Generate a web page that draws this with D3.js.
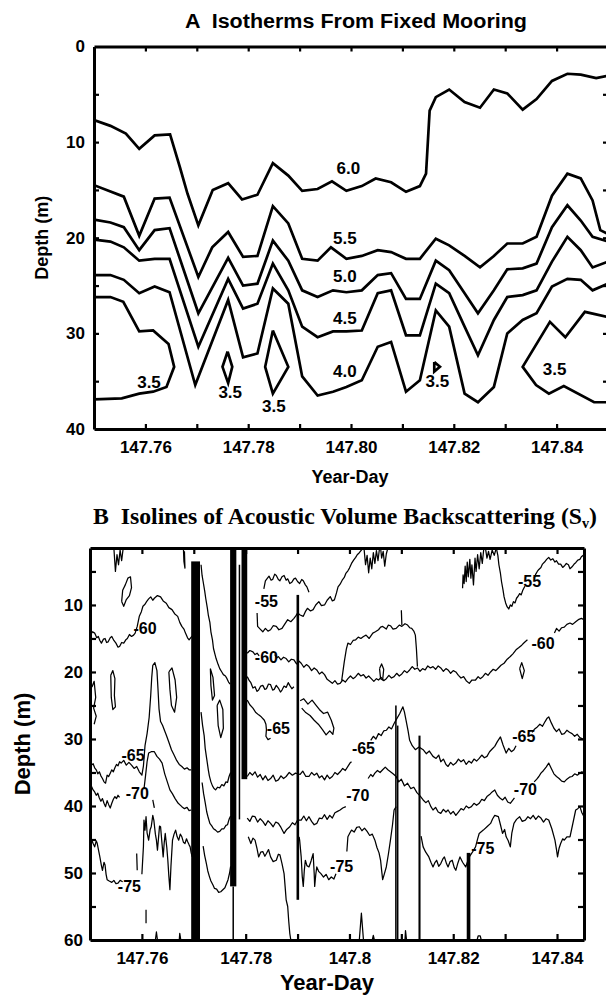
<!DOCTYPE html>
<html><head><meta charset="utf-8">
<script src="https://cdn.jsdelivr.net/npm/d3@7"></script>
<style>body{margin:0;background:#fff} svg{display:block}</style>
</head><body><svg id="c" width="606" height="996"></svg>
<script>
// ===================== PANEL A DATA (Year-Day, depth m) =====================
const aXTicks = [147.76,147.77,147.78,147.79,147.80,147.81,147.82,147.83,147.84];
const aXLabels = [147.76,147.78,147.80,147.82,147.84];
const aYTicks = [5,10,15,20,25,30,35];
const aYLabels = [0,10,20,30,40];

const iso60 = [[147.7500,7.7],[147.7532,8.3],[147.7562,9.1],[147.7588,10.7],[147.7618,9.3],[147.7648,9.2],[147.7667,12.6],[147.7682,15.4],[147.7703,18.7],[147.7731,15.0],[147.7761,14.3],[147.7788,16.0],[147.7818,15.5],[147.7848,12.2],[147.7878,13.5],[147.7905,15.1],[147.7935,14.9],[147.7963,14.1],[147.7991,15.1],[147.8021,14.6],[147.8048,13.8],[147.8078,14.2],[147.8107,15.2],[147.8134,14.6],[147.8146,13.3],[147.8153,6.7],[147.8165,5.3],[147.8191,4.5],[147.8221,5.8],[147.8251,6.4],[147.8278,4.5],[147.8304,4.9],[147.8334,6.6],[147.8361,5.5],[147.8391,3.6],[147.8421,2.85],[147.8447,2.95],[147.8477,3.3],[147.8500,3.05]];
const iso55 = [[147.7500,14.5],[147.7558,15.7],[147.7588,19.8],[147.7618,15.9],[147.7647,15.8],[147.7703,24.1],[147.7730,21.0],[147.7761,19.4],[147.7790,22.0],[147.7818,21.9],[147.7848,16.7],[147.7878,18.5],[147.7905,22.2],[147.7935,22.4],[147.7961,21.0],[147.7991,22.2],[147.8021,21.9],[147.8052,21.3],[147.8078,21.5],[147.8107,22.2],[147.8134,22.2],[147.8165,20.1],[147.8191,20.8],[147.8221,21.9],[147.8251,23.1],[147.8278,21.9],[147.8304,20.6],[147.8334,20.6],[147.8361,19.9],[147.8391,15.6],[147.8421,13.3],[147.8447,13.8],[147.8470,16.1],[147.8485,19.2],[147.8500,19.6]];
const iso50 = [[147.7500,18.1],[147.7532,18.4],[147.7558,18.9],[147.7588,21.3],[147.7618,19.2],[147.7647,19.0],[147.7703,27.9],[147.7761,22.1],[147.7790,25.0],[147.7818,24.8],[147.7848,20.3],[147.7878,22.4],[147.7905,25.5],[147.7935,26.2],[147.7965,25.5],[147.7991,25.7],[147.8021,25.5],[147.8052,23.9],[147.8078,23.7],[147.8107,26.4],[147.8134,26.4],[147.8165,22.4],[147.8191,23.4],[147.8221,25.8],[147.8247,27.9],[147.8278,25.5],[147.8304,23.3],[147.8334,23.2],[147.8361,22.7],[147.8391,18.9],[147.8421,16.6],[147.8447,18.2],[147.8470,19.9],[147.8500,20.4]];
const iso45 = [[147.7500,20.2],[147.7532,20.4],[147.7558,21.0],[147.7588,22.4],[147.7618,22.2],[147.7647,22.2],[147.7703,31.4],[147.7761,24.3],[147.7790,27.4],[147.7818,26.9],[147.7848,22.7],[147.7878,25.5],[147.7905,29.3],[147.7935,30.4],[147.7965,29.8],[147.7991,29.8],[147.8021,29.7],[147.8052,25.8],[147.8078,25.5],[147.8107,30.2],[147.8134,30.2],[147.8165,24.8],[147.8191,25.8],[147.8221,29.3],[147.8247,32.3],[147.8278,28.6],[147.8304,26.2],[147.8334,26.0],[147.8361,25.5],[147.8391,22.5],[147.8421,19.9],[147.8447,21.3],[147.8470,23.1],[147.8500,22.5]];
const iso40 = [[147.7500,23.9],[147.7532,23.9],[147.7558,24.4],[147.7588,25.8],[147.7618,25.1],[147.7647,25.7],[147.7697,35.4],[147.7761,26.5],[147.7790,32.5],[147.7818,32.1],[147.7848,25.3],[147.7878,26.9],[147.7905,34.5],[147.7935,36.5],[147.7965,36.1],[147.7991,35.6],[147.8021,34.9],[147.8052,31.4],[147.8078,30.9],[147.8107,36.1],[147.8134,34.9],[147.8165,27.6],[147.8191,29.3],[147.8221,36.3],[147.8247,37.2],[147.8278,35.6],[147.8304,30.0],[147.8334,28.6],[147.8361,27.9],[147.8391,25.1],[147.8421,24.3],[147.8447,24.4],[147.8470,25.5],[147.8500,24.8]];
const iso35Left = [[147.7500,26.2],[147.7532,26.2],[147.7557,26.7],[147.7588,29.8],[147.7615,29.7],[147.7645,31.1],[147.7656,33.5],[147.7641,35.6],[147.7615,36.1],[147.7588,36.3],[147.7554,36.8],[147.7500,36.9]];
const iso35D1 = [[147.7760,31.9],[147.7769,33.5],[147.7761,35.2],[147.7750,33.5],[147.7760,31.9]];
const iso35D2 = [[147.7848,29.7],[147.7878,33.5],[147.7848,36.3],[147.7833,33.5],[147.7848,29.7]];
const iso35D3 = [[147.8162,33.0],[147.8173,33.5],[147.8162,34.0],[147.8162,33.0]];
const iso35Right = [[147.8500,28.3],[147.8455,27.75],[147.8417,30.4],[147.8387,28.8],[147.8334,33.5],[147.8360,35.4],[147.8385,36.3],[147.8414,35.5],[147.8473,37.2],[147.8500,37.2]];
const aLabels = [["6.0",147.7995,12.75],["5.5",147.7988,20.1],["5.0",147.7988,24.1],["4.5",147.7988,28.4],["4.0",147.7988,34.0],
  ["3.5",147.7607,35.1],["3.5",147.7765,36.2],["3.5",147.7850,37.6],["3.5",147.8168,35.05],["3.5",147.8396,33.8]];

// ===================== PANEL B DATA (Year-Day, depth m, Sv dB) =====================
const bXTicks = [147.76,147.77,147.78,147.79,147.80,147.81,147.82,147.83,147.84];
const bXLabels = [147.76,147.78,147.80,147.82,147.84];
const bXLabelText = ["147.76","147.78","147.8","147.82","147.84"];
const bYTicks = [5,10,15,20,25,30,35,40,45,50,55];
const bYLabels = [10,20,30,40,50,60];

const svTopL1 = [[147.7546,1.5],[147.7549,5.0],[147.7552,2.5],[147.7555,4.0],[147.7558,1.8],[147.7561,3.4],[147.7564,1.5]];
const svTopL2 = [[147.7680,1.5],[147.7681,3.5],[147.7683,4.5],[147.7682,2.0]];
const svBlobL = [[147.7561,9.5],[147.7563,7.8],[147.7568,7.0],[147.7573,6.0],[147.7578,5.8],[147.7580,7.4],[147.7576,8.6],[147.7570,9.2],[147.7565,10.2],[147.7561,9.5]];
const svLeftSq = [[147.7500,21.5],[147.7504,22.2],[147.7508,21.4],[147.7511,23.8],[147.7507,25.4],[147.7512,26.6],[147.7508,27.8]];
const svLoopL2 = [[147.7540,20.5],[147.7544,19.8],[147.7548,21.0],[147.7547,23.5],[147.7549,25.2],[147.7544,25.6],[147.7541,23.8],[147.7540,20.5]];
const svLoopL3 = [[147.7652,20.0],[147.7658,19.4],[147.7664,21.2],[147.7667,23.8],[147.7663,26.0],[147.7657,25.0],[147.7654,22.6],[147.7652,20.0]];
const sv60Left = [[147.7500,14.5],[147.7505,14.0],[147.7509,14.2],[147.7513,14.9],[147.7516,14.7],[147.7519,15.3],[147.7522,15.7],[147.7526,15.1],[147.7529,15.0],[147.7532,15.6],[147.7535,15.5],[147.7539,14.9],[147.7542,14.7],[147.7546,15.3],[147.7550,15.7],[147.7554,16.3],[147.7557,16.2],[147.7561,15.6],[147.7565,15.7],[147.7569,15.2],[147.7572,15.0],[147.7576,14.4],[147.7580,14.7],[147.7584,14.5],[147.7587,14.2],[147.7591,13.2],[147.7595,11.7],[147.7599,11.0],[147.7602,10.2],[147.7606,9.9],[147.7609,9.5],[147.7613,9.1],[147.7617,8.8],[147.7621,9.3],[147.7624,9.0],[147.7630,8.6],[147.7636,8.8],[147.7641,9.4],[147.7647,9.75],[147.7652,10.4],[147.7658,10.7],[147.7663,11.3],[147.7669,11.7],[147.7673,12.6],[147.7677,13.2],[147.7681,13.6],[147.7684,14.2],[147.7688,14.9],[147.7691,15.2],[147.7695,14.8],[147.7699,14.5],[147.7705,13.2]];
const sv65Left = [[147.7500,33.6],[147.7503,33.9],[147.7506,33.7],[147.7509,34.3],[147.7512,34.6],[147.7515,35.2],[147.7518,34.9],[147.7521,35.5],[147.7524,35.9],[147.7527,36.4],[147.7530,36.6],[147.7533,35.4],[147.7536,35.6],[147.7539,35.1],[147.7542,34.6],[147.7545,34.9],[147.7548,34.3],[147.7551,33.8],[147.7554,34.0],[147.7557,33.4],[147.7560,33.6],[147.7565,33.2],[147.7570,33.9],[147.7575,33.5],[147.7580,33.9],[147.7585,34.4],[147.7590,34.1],[147.7595,34.9],[147.7600,35.4],[147.7603,34.0],[147.7606,31.0],[147.7610,29.2],[147.7614,26.8],[147.7617,23.5],[147.7619,20.8],[147.7621,19.0],[147.7625,18.6],[147.7629,19.8],[147.7631,22.5],[147.7633,25.5],[147.7636,27.4],[147.7640,28.0],[147.7644,28.8],[147.7647,29.4],[147.7652,30.5],[147.7657,31.6],[147.7662,32.4],[147.7667,33.2],[147.7672,33.8],[147.7677,34.1],[147.7682,34.5],[147.7687,34.3],[147.7691,34.6],[147.7695,34.6]];
const sv70Left = [[147.7500,37.4],[147.7503,37.1],[147.7506,37.6],[147.7509,37.9],[147.7512,38.4],[147.7515,38.1],[147.7518,38.8],[147.7521,39.3],[147.7524,38.9],[147.7527,39.6],[147.7530,40.1],[147.7533,39.2],[147.7536,39.8],[147.7539,40.3],[147.7542,39.6],[147.7545,39.0],[147.7548,38.6],[147.7551,38.9],[147.7554,38.4],[147.7557,38.7]];
const sv70LeftB = [[147.7604,37.5],[147.7607,35.5],[147.7610,33.4],[147.7613,32.1],[147.7618,31.9],[147.7624,31.9],[147.7629,32.6],[147.7634,33.0],[147.7639,33.6],[147.7644,35.2],[147.7649,36.4],[147.7654,37.6],[147.7659,38.2],[147.7664,38.9],[147.7670,39.6],[147.7677,40.1],[147.7682,40.4],[147.7687,40.2],[147.7691,40.7],[147.7695,40.6]];
const sv70LeftC = [[147.7621,39.1],[147.7624,40.3]];
const sv75Left = [[147.7502,44.8],[147.7506,45.6],[147.7509,46.1],[147.7512,45.2],[147.7514,45.6],[147.7517,46.8],[147.7519,47.6],[147.7522,48.9],[147.7524,49.6],[147.7527,48.4],[147.7529,48.8],[147.7531,50.2],[147.7533,51.0],[147.7537,51.2],[147.7542,51.4],[147.7546,51.1],[147.7550,51.6],[147.7554,51.5],[147.7558,51.1],[147.7563,51.3]];
const sv75LeftB = [[147.7590,47.1],[147.7591,49.6]];
const sv75LeftC = [[147.7608,55.5],[147.7608,57.5]];
const sv75Cluster = [[147.7600,50.2],[147.7603,46.0],[147.7604,42.1],[147.7606,43.6],[147.7608,41.6],[147.7610,44.0],[147.7613,45.1],[147.7616,43.5],[147.7618,43.1],[147.7621,41.4],[147.7623,42.1],[147.7626,44.2],[147.7628,45.1],[147.7630,46.6],[147.7632,44.8],[147.7634,43.0],[147.7636,43.1],[147.7639,45.8],[147.7641,47.6],[147.7643,45.5],[147.7645,44.1],[147.7648,46.2],[147.7650,48.1],[147.7652,50.5],[147.7654,52.5],[147.7656,49.0],[147.7659,45.1],[147.7662,44.2],[147.7665,43.6],[147.7668,44.6],[147.7671,45.1],[147.7674,44.2],[147.7677,44.6],[147.7680,45.4],[147.7683,45.6],[147.7686,44.9],[147.7688,45.3],[147.7691,45.8],[147.7693,46.1],[147.7695,47.0],[147.7697,47.6]];
const sv60Bars12 = [[147.7714,4.0],[147.7716,5.6],[147.7718,6.5],[147.7721,7.9],[147.7723,9.0],[147.7726,10.4],[147.7728,11.5],[147.7731,12.6],[147.7733,14.0],[147.7736,15.2],[147.7738,16.5],[147.7741,17.4],[147.7743,18.0],[147.7747,18.9],[147.7750,19.5],[147.7754,20.0],[147.7757,20.4],[147.7761,20.6],[147.7764,21.0],[147.7767,21.5],[147.7770,21.8]];
const svBlobB12 = [[147.7732,19.5],[147.7737,20.8],[147.7740,23.5],[147.7736,24.2],[147.7733,22.0],[147.7732,19.5]];
const svLoopB = [[147.7745,25.0],[147.7750,24.2],[147.7756,25.6],[147.7757,28.4],[147.7752,29.8],[147.7747,28.0],[147.7745,25.0]];
const sv65Bars12 = [[147.7714,26.0],[147.7717,28.0],[147.7720,29.5],[147.7722,31.4],[147.7725,33.0],[147.7728,34.6],[147.7730,35.5],[147.7733,36.4],[147.7736,37.0],[147.7739,37.4],[147.7742,37.6],[147.7746,37.2],[147.7750,37.3],[147.7754,36.8],[147.7758,37.0],[147.7762,36.4],[147.7765,36.5],[147.7768,35.6],[147.7771,35.0]];
const sv70Bars12 = [[147.7716,36.5],[147.7719,38.2],[147.7722,39.5],[147.7725,40.9],[147.7728,41.8],[147.7731,42.6],[147.7735,43.0],[147.7738,43.4],[147.7742,43.6],[147.7746,43.9],[147.7750,43.8],[147.7754,43.4],[147.7758,43.4],[147.7762,42.9],[147.7765,42.8],[147.7768,42.0],[147.7771,41.5]];
const sv75Bars12 = [[147.7718,46.0],[147.7721,47.4],[147.7724,48.5],[147.7727,49.7],[147.7730,50.5],[147.7733,51.2],[147.7737,51.8],[147.7740,52.3],[147.7744,52.4],[147.7748,52.9],[147.7752,52.8],[147.7756,52.5],[147.7760,52.2],[147.7763,51.6],[147.7766,51.0],[147.7769,50.0],[147.7771,49.0]];
const sv55Mid = [[147.7822,11.2],[147.7823,13.2],[147.7828,13.6],[147.7833,14.0],[147.7838,13.5],[147.7843,13.9],[147.7848,13.7],[147.7853,13.1],[147.7859,13.2],[147.7864,13.7],[147.7870,13.5],[147.7875,12.9],[147.7881,12.2],[147.7887,12.5],[147.7893,12.0],[147.7897,11.6],[147.7900,11.2],[147.7905,11.5],[147.7911,11.7],[147.7915,11.0],[147.7919,10.5],[147.7925,10.9],[147.7930,10.7],[147.7935,10.0],[147.7941,9.5],[147.7946,10.1],[147.7952,10.0],[147.7957,9.3],[147.7963,8.75],[147.7967,9.4],[147.7971,9.25],[147.7975,8.2],[147.7978,7.3],[147.7982,6.9],[147.7986,6.3],[147.7990,5.9],[147.7993,5.3],[147.7997,4.9],[147.8000,4.5],[147.8004,3.8],[147.8008,3.3],[147.8012,2.9],[147.8015,2.5],[147.8019,2.2],[147.8023,1.8],[147.8026,1.5]];
const sv55Upper = [[147.7835,7.6],[147.7838,6.4],[147.7842,6.0],[147.7845,5.7],[147.7849,6.3],[147.7852,6.2],[147.7856,5.4],[147.7859,5.6],[147.7863,6.2],[147.7866,6.4],[147.7870,5.8],[147.7874,5.6],[147.7878,6.3],[147.7881,6.1],[147.7885,6.8],[147.7889,6.6],[147.7893,6.1],[147.7896,6.0],[147.7900,6.5],[147.7904,6.8],[147.7908,6.2],[147.7911,6.4],[147.7915,7.0],[147.7918,7.3],[147.7922,8.1]];
const svTopM1 = [[147.8028,1.5],[147.8031,4.0],[147.8034,2.6],[147.8037,5.2],[147.8040,3.0],[147.8043,4.6],[147.8046,2.2],[147.8049,3.8],[147.8052,1.9],[147.8055,3.4],[147.8058,1.5]];
const svTopM2 = [[147.8060,1.5],[147.8062,3.0],[147.8065,2.0],[147.8068,4.2],[147.8071,2.4],[147.8074,1.5]];
const sv60Mid = [[147.7803,17.2],[147.7808,16.8],[147.7814,17.0],[147.7818,17.4],[147.7822,17.2],[147.7826,17.6]];
const sv60Mid2 = [[147.7856,17.4],[147.7860,17.9],[147.7863,17.7],[147.7868,18.2],[147.7873,17.8],[147.7878,18.0],[147.7883,18.5],[147.7888,18.1],[147.7893,18.2],[147.7898,18.8],[147.7903,18.4],[147.7907,18.7],[147.7912,19.3],[147.7917,18.9],[147.7922,19.2],[147.7927,19.8],[147.7932,19.4],[147.7937,19.7],[147.7942,20.3],[147.7947,20.0],[147.7952,20.4],[147.7957,21.1],[147.7962,21.4],[147.7967,21.7],[147.7972,21.3],[147.7977,21.8],[147.7982,21.7],[147.7987,21.2],[147.7992,21.5],[147.7997,21.0],[147.8002,20.6],[147.8007,21.0],[147.8012,20.7],[147.8017,20.2],[147.8022,20.6],[147.8027,20.4],[147.8032,20.9],[147.8037,20.6],[147.8042,21.0],[147.8047,21.4],[147.8052,21.0],[147.8056,21.2],[147.8061,20.8],[147.8066,21.3],[147.8071,21.0],[147.8076,20.5],[147.8081,20.9],[147.8086,20.7],[147.8091,20.2],[147.8096,20.6],[147.8101,20.3],[147.8106,19.8],[147.8111,20.1],[147.8116,19.7],[147.8121,19.2],[147.8126,19.6],[147.8131,19.4],[147.8136,19.9],[147.8141,19.5],[147.8146,19.7],[147.8151,19.1],[147.8156,19.4],[147.8161,19.2],[147.8166,19.6],[147.8171,19.1],[147.8176,19.4],[147.8181,19.9],[147.8186,19.5],[147.8190,19.7],[147.8195,20.2],[147.8200,19.8],[147.8205,20.0],[147.8210,20.5],[147.8215,20.9],[147.8220,20.7],[147.8225,21.3],[147.8231,21.7],[147.8236,21.2],[147.8243,21.2],[147.8248,20.7],[147.8252,21.0],[147.8257,20.7],[147.8262,20.2],[147.8267,20.5],[147.8272,20.0],[147.8277,19.6],[147.8282,19.8],[147.8287,19.4],[147.8292,19.0],[147.8298,18.7],[147.8304,18.1],[147.8310,17.7],[147.8315,17.3],[147.8321,16.7],[147.8326,16.4],[147.8332,16.0],[147.8337,15.6],[147.8343,15.2]];
const sv60Right = [[147.8395,14.2],[147.8399,13.5],[147.8404,13.9],[147.8409,13.4],[147.8414,13.3],[147.8419,12.9],[147.8425,12.7],[147.8430,12.9],[147.8436,12.5],[147.8441,12.2],[147.8447,12.0],[147.8452,12.2]];
const sv60Upper = [[147.7985,21.3],[147.7990,18.5],[147.7994,16.6],[147.7997,15.7],[147.8002,15.9],[147.8007,15.3],[147.8012,15.2],[147.8017,14.8],[147.8022,15.0],[147.8027,14.7],[147.8032,14.5],[147.8038,15.0],[147.8045,14.2],[147.8050,14.0],[147.8056,13.7],[147.8060,13.3],[147.8064,13.2],[147.8071,13.6],[147.8075,13.0],[147.8079,13.1],[147.8084,13.6],[147.8090,13.5],[147.8096,13.0],[147.8101,13.2],[147.8107,12.8],[147.8112,13.0],[147.8116,13.4],[147.8120,13.5],[147.8124,13.9],[147.8127,14.5],[147.8129,16.5],[147.8131,19.2]];
const svMid22 = [[147.7803,20.7],[147.7807,21.3],[147.7810,21.6],[147.7814,22.4],[147.7818,22.2],[147.7822,22.9],[147.7825,22.7],[147.7829,22.1],[147.7833,22.0],[147.7837,22.6],[147.7840,22.5],[147.7844,21.8],[147.7848,21.9],[147.7852,22.7],[147.7855,22.6],[147.7859,22.0],[147.7863,22.4],[147.7867,23.0],[147.7870,22.7],[147.7874,22.1],[147.7878,22.3],[147.7882,21.6],[147.7885,22.0],[147.7889,22.5],[147.7893,22.2]];
const sv65Mid2a = [[147.7803,24.2],[147.7808,24.9],[147.7814,25.4],[147.7819,26.0],[147.7825,26.4],[147.7830,26.7],[147.7836,27.2],[147.7839,27.8],[147.7840,28.6],[147.7839,29.6],[147.7843,30.1],[147.7848,29.9]];
const svLoopM = [[147.7905,24.3],[147.7912,24.0],[147.7920,24.8],[147.7928,24.2],[147.7935,24.9],[147.7942,25.6],[147.7950,26.2],[147.7958,26.0],[147.7965,27.2],[147.7970,28.4],[147.7968,29.3],[147.7962,28.8],[147.7955,29.4],[147.7948,28.6],[147.7940,27.8],[147.7932,27.2],[147.7924,26.5],[147.7915,26.0],[147.7908,25.4]];
const sv65Main = [[147.7803,35.6],[147.7808,35.0],[147.7813,35.4],[147.7818,34.9],[147.7823,35.7],[147.7828,35.3],[147.7833,36.1],[147.7838,35.5],[147.7843,36.2],[147.7848,35.9],[147.7853,35.4],[147.7858,36.3],[147.7863,36.1],[147.7868,35.5],[147.7873,35.9],[147.7878,35.6],[147.7884,35.0],[147.7890,35.4],[147.7896,35.1],[147.7905,35.3],[147.7910,34.8],[147.7916,35.6],[147.7922,35.6],[147.7927,35.0],[147.7932,35.4],[147.7937,35.1],[147.7942,35.8],[147.7947,35.5],[147.7952,36.1],[147.7957,35.4],[147.7962,35.9],[147.7967,35.6],[147.7972,35.0],[147.7977,35.3],[147.7982,34.9],[147.7987,34.4],[147.7992,34.7],[147.7997,34.1],[147.8001,33.6],[147.8004,33.4]];
const sv65Main2 = [[147.8041,30.2],[147.8046,29.6],[147.8051,30.0],[147.8056,29.2],[147.8061,29.5],[147.8066,28.8],[147.8071,28.7],[147.8076,28.2],[147.8081,28.5],[147.8086,27.7],[147.8091,27.0],[147.8097,26.2],[147.8103,25.2],[147.8106,26.0],[147.8109,27.2],[147.8113,28.8],[147.8116,30.2],[147.8121,31.0],[147.8127,31.6],[147.8134,31.2],[147.8142,31.6],[147.8148,32.2],[147.8154,31.8],[147.8161,32.6],[147.8167,32.9],[147.8172,32.4],[147.8176,33.4],[147.8181,33.0],[147.8186,33.8],[147.8190,34.1],[147.8195,33.5],[147.8200,33.9],[147.8205,33.6],[147.8210,33.0],[147.8215,33.4],[147.8220,33.1],[147.8225,33.8],[147.8230,33.3],[147.8235,33.6],[147.8240,33.0],[147.8245,33.3],[147.8250,32.9],[147.8255,32.4],[147.8260,32.8],[147.8265,32.6],[147.8270,31.9],[147.8275,31.5],[147.8280,31.1],[147.8285,30.4],[147.8291,29.7],[147.8296,30.9],[147.8302,32.1],[147.8307,31.4],[147.8312,31.9],[147.8317,31.6],[147.8321,31.0]];
const sv65Main3 = [[147.8352,29.0],[147.8357,28.5],[147.8362,28.2],[147.8367,27.8],[147.8372,28.1],[147.8377,27.4],[147.8381,26.9],[147.8384,26.7],[147.8389,27.6],[147.8394,28.4],[147.8399,28.9],[147.8404,28.5],[147.8409,29.3],[147.8414,29.2],[147.8419,28.7],[147.8424,29.0],[147.8429,29.2],[147.8434,29.6],[147.8439,29.3],[147.8444,29.8],[147.8447,29.9],[147.8452,30.1]];
const sv70Mid1 = [[147.7803,41.8],[147.7808,42.3],[147.7813,41.5],[147.7818,41.6],[147.7823,42.4],[147.7828,41.9],[147.7833,42.3],[147.7838,42.9],[147.7843,42.2],[147.7848,42.6],[147.7853,43.1],[147.7858,42.4],[147.7863,42.6],[147.7868,43.2],[147.7874,44.1],[147.7879,43.5],[147.7885,43.1],[147.7890,42.5],[147.7895,42.8],[147.7900,42.1],[147.7907,42.1],[147.7912,41.5],[147.7917,42.2],[147.7922,41.6],[147.7927,42.3],[147.7932,42.8],[147.7937,42.6],[147.7942,41.8],[147.7947,41.9],[147.7952,41.3],[147.7957,42.0],[147.7962,41.4],[147.7967,41.8],[147.7972,41.0],[147.7977,40.8],[147.7982,40.6],[147.7987,40.3],[147.7993,40.1]];
const sv70Mid2 = [[147.8036,35.9],[147.8041,35.3],[147.8045,35.6],[147.8049,35.1],[147.8054,34.7],[147.8059,35.0],[147.8064,34.6],[147.8069,34.2],[147.8074,34.6],[147.8079,34.9],[147.8084,35.2],[147.8090,35.6],[147.8095,36.4],[147.8100,36.0],[147.8106,37.0],[147.8112,36.6],[147.8118,37.4],[147.8124,37.2],[147.8130,38.0],[147.8136,38.5],[147.8142,39.1],[147.8147,39.5],[147.8152,39.2],[147.8157,40.1],[147.8161,40.6],[147.8166,40.2],[147.8171,40.9],[147.8176,41.1],[147.8181,40.5],[147.8186,40.9],[147.8190,40.6],[147.8195,41.2],[147.8200,40.8],[147.8205,41.4],[147.8210,40.9],[147.8215,40.4],[147.8220,40.6],[147.8225,40.0],[147.8230,40.3],[147.8235,40.1],[147.8240,39.6],[147.8245,39.9],[147.8250,39.6],[147.8255,39.0],[147.8260,39.2],[147.8265,38.6],[147.8270,38.3],[147.8275,37.9],[147.8280,37.6],[147.8285,38.4],[147.8290,38.8],[147.8295,39.1],[147.8300,38.7],[147.8305,39.4],[147.8310,39.6],[147.8314,39.2],[147.8318,38.8]];
const sv70Right = [[147.8356,36.4],[147.8361,36.0],[147.8365,35.6],[147.8369,35.1],[147.8374,34.7],[147.8379,34.2],[147.8384,33.6],[147.8389,34.4],[147.8394,35.2],[147.8399,35.6],[147.8404,35.9],[147.8409,36.3],[147.8414,36.4],[147.8419,36.0],[147.8424,35.7],[147.8429,35.6],[147.8434,35.2],[147.8439,35.4],[147.8444,35.1],[147.8448,34.9],[147.8452,35.1]];
const sv75Mid1 = [[147.7805,44.6],[147.7810,45.6],[147.7814,44.8],[147.7818,45.1],[147.7822,46.4],[147.7825,47.6],[147.7829,46.9],[147.7833,46.8],[147.7837,47.5],[147.7840,47.1],[147.7844,46.5],[147.7848,47.6],[147.7853,48.3],[147.7859,48.1],[147.7863,47.2],[147.7866,47.3],[147.7870,48.6],[147.7874,50.1],[147.7876,52.0],[147.7878,54.0],[147.7881,55.0],[147.7883,57.2],[147.7885,59.0],[147.7887,60.0]];
const sv75Mid2 = [[147.7903,44.6],[147.7904,45.1],[147.7907,47.6],[147.7909,50.5],[147.7911,52.0],[147.7913,49.6],[147.7915,48.1],[147.7918,48.9],[147.7922,49.1],[147.7926,48.2],[147.7930,47.1],[147.7932,50.0],[147.7933,52.0],[147.7935,50.3],[147.7937,49.1],[147.7941,49.8],[147.7945,50.1],[147.7950,50.6],[147.7955,50.2],[147.7960,51.0],[147.7965,50.6],[147.7970,50.9],[147.7974,50.1]];
const sv75Mid3 = [[147.7995,46.8],[147.7997,44.6],[147.8001,44.0],[147.8004,43.6],[147.8009,43.9],[147.8014,43.2],[147.8019,43.1],[147.8024,43.7],[147.8029,43.3],[147.8034,43.8],[147.8039,44.4],[147.8044,44.2],[147.8049,45.1],[147.8053,46.2],[147.8057,47.0],[147.8060,48.1],[147.8062,49.6],[147.8064,51.0],[147.8067,50.2],[147.8071,49.1],[147.8075,47.2],[147.8079,45.1],[147.8083,42.8],[147.8086,40.6],[147.8090,40.1]];
const sv75Right = [[147.8138,44.5],[147.8142,46.1],[147.8147,46.9],[147.8153,47.6],[147.8157,48.4],[147.8161,49.1],[147.8165,48.4],[147.8168,48.1],[147.8172,49.0],[147.8176,48.6],[147.8180,47.9],[147.8183,47.6],[147.8187,48.6],[147.8190,49.1],[147.8194,48.3],[147.8198,48.1],[147.8202,49.2],[147.8205,49.6],[147.8209,48.5],[147.8213,47.6],[147.8218,48.4],[147.8224,49.1],[147.8228,48.2],[147.8231,47.6],[147.8237,46.9],[147.8243,46.1],[147.8247,44.9],[147.8250,44.1],[147.8258,43.6],[147.8265,43.1],[147.8272,42.6],[147.8276,41.9],[147.8280,41.4],[147.8287,41.6],[147.8291,42.8],[147.8295,44.1],[147.8299,43.5],[147.8302,44.6],[147.8306,45.2],[147.8310,46.1],[147.8313,44.0],[147.8317,42.6],[147.8322,42.0],[147.8328,41.6],[147.8333,42.3],[147.8339,42.1],[147.8344,41.6],[147.8349,41.9],[147.8354,41.4],[147.8359,42.0],[147.8364,41.5],[147.8369,41.8],[147.8374,42.4],[147.8379,41.9],[147.8384,42.1],[147.8390,43.4],[147.8396,45.1],[147.8399,46.5],[147.8401,47.6],[147.8404,46.3],[147.8407,45.6],[147.8411,44.9],[147.8414,45.1],[147.8419,44.6],[147.8425,44.6],[147.8430,42.8],[147.8436,40.6],[147.8440,40.4],[147.8444,40.1],[147.8448,41.0],[147.8452,41.6]];
const sv55Right = [[147.8283,1.5],[147.8286,2.6],[147.8288,4.0],[147.8291,5.3],[147.8293,6.5],[147.8296,7.8],[147.8298,8.8],[147.8301,9.7],[147.8304,10.3],[147.8307,10.6],[147.8310,10.0],[147.8313,10.2],[147.8316,9.5],[147.8319,9.7],[147.8322,9.0],[147.8325,8.7],[147.8328,8.3],[147.8331,8.5],[147.8334,7.8],[147.8336,7.5],[147.8338,7.2]];
const sv55Right2 = [[147.8356,6.0],[147.8359,5.4],[147.8362,5.0],[147.8365,4.7],[147.8369,4.4],[147.8372,3.9],[147.8376,3.6],[147.8380,3.2],[147.8384,2.9],[147.8388,3.3],[147.8392,3.1],[147.8396,3.6],[147.8399,3.4],[147.8403,3.9],[147.8407,3.9],[147.8411,4.4],[147.8414,4.2],[147.8418,3.8],[147.8422,4.0],[147.8425,4.6],[147.8429,4.3],[147.8433,3.9],[147.8436,3.7],[147.8440,3.3],[147.8444,3.2],[147.8447,2.8],[147.8450,2.6],[147.8452,2.9]];
const svTopR1 = [[147.8218,7.5],[147.8219,5.5],[147.8221,6.8],[147.8223,4.2],[147.8225,6.5],[147.8227,3.6],[147.8229,5.8],[147.8232,3.2],[147.8234,6.0],[147.8236,4.0],[147.8239,7.0],[147.8242,3.0],[147.8244,5.0],[147.8247,2.5],[147.8250,4.6],[147.8253,2.2],[147.8256,3.8],[147.8259,1.5]];
const svTopR2 = [[147.8262,1.5],[147.8265,3.0],[147.8268,2.0],[147.8271,3.2],[147.8275,1.8],[147.8279,2.6],[147.8283,1.5]];
const svSmall1 = [[147.8058,19.5],[147.8062,18.8],[147.8066,19.6],[147.8064,21.2],[147.8060,21.0],[147.8058,19.5]];
const svSpikeA = [[147.8100,10.8],[147.8101,13.0]];
const svDiamR = [[147.8328,19.5],[147.8332,18.6],[147.8337,19.8],[147.8333,21.0],[147.8328,19.5]];
const svBot1 = [[147.8019,60],[147.8023,56.0],[147.8027,60]];
const svBot2 = [[147.7626,60],[147.7628,58.8],[147.7630,60]];
const svBot3 = [[147.7672,60],[147.7673,59.0],[147.7675,60]];
const svBot4 = [[147.8044,60],[147.8046,59.3],[147.8048,60]];
const svBot5 = [[147.8107,60],[147.8108,58.6],[147.8110,60]];
const svBot6 = [[147.8246,60],[147.8248,59.4],[147.8252,59.4],[147.8254,60]];
// dense clusters of isolines that merge into dark vertical bands: [t0, t1, top depth, bottom depth]
const bBands = [[147.7695,147.7712,3.5,60],[147.7770,147.7782,1.5,52],[147.7792,147.7803,1.5,36],[147.7898,147.7903,8.5,54],[147.8088,147.8091,25,60],[147.8133,147.8137,29.5,60],[147.8226,147.8233,47,60]];
const bThin = [[147.7776,52,60],[147.7788,4,42],[147.8093,28,60]];
const bLabels = [["-55",147.7840,9.5],["-55",147.8347,6.5],["-60",147.7606,13.5],["-60",147.7840,17.9],["-60",147.8373,15.7],
  ["-65",147.7583,32.4],["-65",147.7863,28.4],["-65",147.8027,31.4],["-65",147.8336,29.7],
  ["-70",147.7591,38.1],["-70",147.8016,38.4],["-70",147.8339,37.6],
  ["-75",147.7576,52.0],["-75",147.7985,49.1],["-75",147.8257,46.3]];

const bLines = [svTopL1,svTopL2,svBlobL,svLeftSq,svLoopL2,svLoopL3,sv60Left,sv65Left,sv70Left,sv70LeftB,sv70LeftC,sv75Left,sv75LeftB,sv75LeftC,sv75Cluster,
  sv60Bars12,svBlobB12,svLoopB,sv65Bars12,sv70Bars12,sv75Bars12,sv55Mid,sv55Upper,svTopM1,svTopM2,sv60Mid,sv60Mid2,sv60Right,sv60Upper,
  svMid22,sv65Mid2a,svLoopM,sv65Main,sv65Main2,sv65Main3,sv70Mid1,sv70Mid2,sv70Right,sv75Mid1,sv75Mid2,sv75Mid3,sv75Right,
  sv55Right,sv55Right2,svTopR1,svTopR2,svSmall1,svSpikeA,svDiamR,svBot1,svBot2,svBot3,svBot4,svBot5,svBot6];

// ===================== DRAWING =====================
const SANS = "'Liberation Sans', Arial, Helvetica, sans-serif";
const SERIF = "'Liberation Serif', 'Times New Roman', serif";
const svg = d3.select("#c");

function frame(g, x, y, xt, yt, tick) {
  const x0 = x.range()[0], x1 = x.range()[1], y0 = y.range()[0], y1 = y.range()[1];
  g.append("g").attr("transform", `translate(0,${y1})`).call(d3.axisBottom(x).tickValues(xt).tickSize(-tick).tickSizeOuter(0).tickFormat(""));
  g.append("g").attr("transform", `translate(0,${y0})`).call(d3.axisTop(x).tickValues(xt).tickSize(-tick).tickSizeOuter(0).tickFormat(""));
  g.append("g").attr("transform", `translate(${x0},0)`).call(d3.axisLeft(y).tickValues(yt).tickSize(-tick).tickSizeOuter(0).tickFormat(""));
  g.append("g").attr("transform", `translate(${x1},0)`).call(d3.axisRight(y).tickValues(yt).tickSize(-tick).tickSizeOuter(0).tickFormat(""));
  g.selectAll(".domain").attr("stroke", "#000").attr("stroke-width", 3);
  g.selectAll(".tick line").attr("stroke", "#000").attr("stroke-width", 2.2);
}
function labels(g, axis, pos, fs) {
  const a = g.append("g").attr("transform", pos).call(axis);
  a.select(".domain").remove();
  a.selectAll("text").attr("font-family", SANS).attr("font-weight", "bold").attr("font-size", fs).attr("fill", "#000");
}

// ---------- Panel A ----------
const xA = d3.scaleLinear().domain([147.75, 147.85]).range([94, 608]);
const yA = d3.scaleLinear().domain([0, 40]).range([46.5, 429]);
const gA = svg.append("g");
gA.append("clipPath").attr("id", "clipA").append("rect")
  .attr("x", xA(147.75)).attr("y", yA(0)).attr("width", xA(147.85) - xA(147.75)).attr("height", yA(40) - yA(0));
const lineA = d3.line().x(d => xA(d[0])).y(d => yA(d[1]));
gA.append("g").attr("clip-path", "url(#clipA)").selectAll("path")
  .data([iso60, iso55, iso50, iso45, iso40, iso35Left, iso35D1, iso35D2, iso35D3, iso35Right]).join("path")
  .attr("d", lineA).attr("fill", "none").attr("stroke", "#000").attr("stroke-width", 2.7).attr("stroke-linejoin", "miter");
frame(gA, xA, yA, aXTicks, aYTicks, 5);
labels(gA, d3.axisBottom(xA).tickValues(aXLabels).tickSize(0).tickPadding(12).tickFormat(d3.format(".2f")), `translate(0,${yA(40)})`, 17);
labels(gA, d3.axisLeft(yA).tickValues(aYLabels).tickSize(0).tickPadding(9).tickFormat(d3.format("d")), `translate(${xA(147.75)},0)`, 17);
gA.append("g").selectAll("text").data(aLabels).join("text")
  .attr("x", d => xA(d[1])).attr("y", d => yA(d[2])).attr("text-anchor", "middle").attr("dominant-baseline", "central")
  .attr("font-family", SANS).attr("font-weight", "bold").attr("font-size", 17).text(d => d[0]);
gA.append("text").attr("x", 356).attr("y", 28).attr("text-anchor", "middle").style("white-space", "pre")
  .attr("textLength", 342).attr("lengthAdjust", "spacingAndGlyphs")
  .attr("font-family", SANS).attr("font-weight", "bold").attr("font-size", 20).text("A  Isotherms From Fixed Mooring");
gA.append("text").attr("transform", `translate(42,${(yA(0) + yA(40)) / 2}) rotate(-90)`).attr("text-anchor", "middle").attr("dy", "0.35em")
  .attr("font-family", SANS).attr("font-weight", "bold").attr("font-size", 18).text("Depth (m)");
gA.append("text").attr("x", 350).attr("y", 483).attr("text-anchor", "middle")
  .attr("font-family", SANS).attr("font-weight", "bold").attr("font-size", 18).text("Year-Day");

// ---------- Panel B ----------
const xB = d3.scaleLinear().domain([147.75, 147.8452]).range([90, 584]);
const yB = d3.scaleLinear().domain([1.5, 60]).range([548, 940]);
const gB = svg.append("g");
gB.append("clipPath").attr("id", "clipB").append("rect")
  .attr("x", xB(147.75)).attr("y", yB(1.5)).attr("width", xB(147.8452) - xB(147.75)).attr("height", yB(60) - yB(1.5));
const lineB = d3.line().x(d => xB(d[0])).y(d => yB(d[1]));
const pB = gB.append("g").attr("clip-path", "url(#clipB)");
pB.selectAll("path.iso").data(bLines).join("path").attr("class", "iso")
  .attr("d", lineB).attr("fill", "none").attr("stroke", "#000").attr("stroke-width", 1.25).attr("stroke-linejoin", "round");
pB.selectAll("rect.band").data(bBands).join("rect").attr("class", "band")
  .attr("x", d => xB(d[0])).attr("width", d => Math.max(1.5, xB(d[1]) - xB(d[0])))
  .attr("y", d => yB(d[2])).attr("height", d => yB(d[3]) - yB(d[2])).attr("fill", "#000");
pB.selectAll("line.thin").data(bThin).join("line").attr("class", "thin")
  .attr("x1", d => xB(d[0])).attr("x2", d => xB(d[0])).attr("y1", d => yB(d[1])).attr("y2", d => yB(d[2]))
  .attr("stroke", "#000").attr("stroke-width", 1.5);
frame(gB, xB, yB, bXTicks, bYTicks, 6);
labels(gB, d3.axisBottom(xB).tickValues(bXLabels).tickSize(0).tickPadding(12).tickFormat((d, i) => bXLabelText[i]), `translate(0,${yB(60)})`, 17);
labels(gB, d3.axisLeft(yB).tickValues(bYLabels).tickSize(0).tickPadding(7).tickFormat(d3.format("d")), `translate(${xB(147.75)},0)`, 17);
gB.append("g").selectAll("text").data(bLabels).join("text")
  .attr("x", d => xB(d[1])).attr("y", d => yB(d[2])).attr("text-anchor", "middle").attr("dominant-baseline", "central")
  .attr("font-family", SANS).attr("font-weight", "bold").attr("font-size", 16).text(d => d[0]);
const tB = gB.append("text").attr("x", 93).attr("y", 524).style("white-space", "pre")
  .attr("textLength", 504).attr("lengthAdjust", "spacingAndGlyphs")
  .attr("font-family", SERIF).attr("font-weight", "bold").attr("font-size", 23.5);
tB.append("tspan").text("B  Isolines of Acoustic Volume Backscattering (S");
tB.append("tspan").attr("font-size", 14).attr("dy", 4).text("v");
tB.append("tspan").attr("dy", -4).text(")");
gB.append("text").attr("transform", `translate(22,${(yB(1.5) + yB(60)) / 2}) rotate(-90)`).attr("text-anchor", "middle").attr("dy", "0.35em")
  .attr("font-family", SANS).attr("font-weight", "bold").attr("font-size", 22).text("Depth (m)");
gB.append("text").attr("x", 327).attr("y", 990).attr("text-anchor", "middle")
  .attr("font-family", SANS).attr("font-weight", "bold").attr("font-size", 22).text("Year-Day");
</script></body></html>
